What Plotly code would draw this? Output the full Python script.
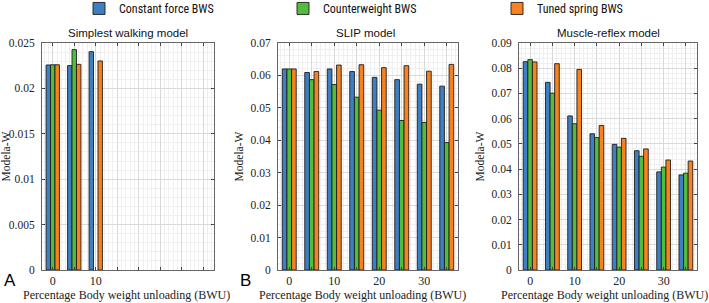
import plotly.graph_objects as go

# ---------------- data ----------------
bwu = [0, 5, 10, 15, 20, 25, 30, 35]
bwu_a = [0, 5, 10]

series_names = ["Constant force BWS", "Counterweight BWS", "Tuned spring BWS"]
series_colors = ["#3d7fc2", "#52bd3c", "#f7821f"]

# Panel A: Simplest walking model
simplest_constant = [0.02258, 0.02251, 0.02405]
simplest_counter = [0.02260, 0.02427, None]
simplest_tuned = [0.02260, 0.02265, 0.02302]

# Panel B: SLIP model
slip_constant = [0.0620, 0.0609, 0.0620, 0.0612, 0.0594, 0.0587, 0.0573, 0.0567]
slip_counter = [0.0620, 0.0587, 0.0572, 0.0533, 0.0493, 0.0461, 0.0455, 0.0393]
slip_tuned = [0.0620, 0.0612, 0.0632, 0.0633, 0.0624, 0.0630, 0.0613, 0.0634]

# Panel C: Muscle-reflex model
muscle_constant = [0.0826, 0.0744, 0.0611, 0.0540, 0.0498, 0.0473, 0.0389, 0.0377]
muscle_counter = [0.0834, 0.0701, 0.0580, 0.0525, 0.0487, 0.0451, 0.0408, 0.0384]
muscle_tuned = [0.0825, 0.0818, 0.0795, 0.0573, 0.0522, 0.0480, 0.0436, 0.0432]

x_tickvals = [0, 5, 10, 15, 20, 25, 30, 35]
x_ticktext_a = ["0", "", "10", "", "", "", "", ""]
x_ticktext_bc = ["0", "", "10", "", "20", "", "30", ""]

panel_titles = ["Simplest walking model", "SLIP model", "Muscle-reflex model"]
panel_letters = ["A", "B"]
y_title = "Modela-W"
x_title = "Percentage Body weight unloading (BWU)"

# ---------------- layout helpers ----------------
W, H = 709, 303
def px_x(p):
    return p / W
def px_y(p):
    return 1 - p / H

x_domains = [(42, 214), (278, 458), (519, 697)]
y_dom = [px_y(270), px_y(43)]
y_ranges = [(0, 0.025), (0, 0.07), (0, 0.09)]
y_dticks = [0.005, 0.01, 0.01]
y_minor = [0.001, 0.002, 0.002]

serif = "Liberation Serif"
sans = "Liberation Sans"

fig = go.Figure()

panels = [
    (bwu_a, [simplest_constant, simplest_counter, simplest_tuned]),
    (bwu, [slip_constant, slip_counter, slip_tuned]),
    (bwu, [muscle_constant, muscle_counter, muscle_tuned]),
]
legend_ids = ["legend", "legend2", "legend3"]

for pi, (xs, vals) in enumerate(panels):
    xa = "x" if pi == 0 else f"x{pi+1}"
    ya = "y" if pi == 0 else f"y{pi+1}"
    for si, v in enumerate(vals):
        fig.add_trace(go.Bar(
            x=xs, y=v, name=series_names[si],
            marker=dict(color=series_colors[si], line=dict(color="#1e1e1e", width=0.9)),
            xaxis=xa, yaxis=ya,
            showlegend=(pi == 0),
            legend=legend_ids[si],
            offsetgroup=str(si),
        ))

layout = dict(
    width=W, height=H,
    margin=dict(l=0, r=0, t=0, b=0, autoexpand=False),
    plot_bgcolor="white", paper_bgcolor="white",
    barmode="group", bargap=0.38, bargroupgap=0.0,
    font=dict(family=serif, size=12, color="#222"),
)

for pi in range(3):
    xk = "xaxis" if pi == 0 else f"xaxis{pi+1}"
    yk = "yaxis" if pi == 0 else f"yaxis{pi+1}"
    xanchor = "y" if pi == 0 else f"y{pi+1}"
    yanchor = "x" if pi == 0 else f"x{pi+1}"
    layout[xk] = dict(
        domain=[px_x(x_domains[pi][0]), px_x(x_domains[pi][1])],
        anchor=xanchor, range=[-2.5, 37.5],
        tickmode="array", tickvals=x_tickvals,
        ticktext=x_ticktext_a if pi == 0 else x_ticktext_bc,
        ticks="inside", ticklen=3, tickcolor="#444",
        showline=True, linecolor="#666", linewidth=1, mirror="ticks",
        showgrid=True, gridcolor="#d9d9d9", gridwidth=1,
        minor=dict(dtick=1, tick0=0, showgrid=True, gridcolor="#efefef", gridwidth=1, ticks=""),
        tickfont=dict(family=serif, size=12, color="#222"),
        ticklabelstandoff=0,
        zeroline=False, fixedrange=True,
    )
    layout[yk] = dict(
        domain=y_dom, anchor=yanchor,
        range=list(y_ranges[pi]), dtick=y_dticks[pi], tick0=0,
        ticks="inside", ticklen=3, tickcolor="#444",
        showline=True, linecolor="#666", linewidth=1, mirror="ticks",
        showgrid=True, gridcolor="#d9d9d9", gridwidth=1,
        minor=dict(dtick=y_minor[pi], showgrid=True, gridcolor="#efefef", gridwidth=1, ticks=""),
        tickfont=dict(family=serif, size=11.5, color="#222"),
        ticklabelstandoff=4,
        title=dict(text=y_title, font=dict(family=serif, size=11.5, color="#222"), standoff=4),
        zeroline=False, fixedrange=True,
    )

leg_font = dict(family="Liberation Sans Narrow, Roboto Condensed, Liberation Sans", size=12, color="#111")
leg_x = [79, 283, 497]
for li, lid in enumerate(legend_ids):
    layout[lid] = dict(
        x=px_x(leg_x[li]), y=1.02, xanchor="left", yanchor="top",
        orientation="h", font=leg_font, bgcolor="rgba(0,0,0,0)",
        itemwidth=30, tracegroupgap=0,
    )

annotations = []
title_cx = [128, 365, 608]
xtitle_cx = [126, 362, 604]
for pi in range(3):
    annotations.append(dict(
        text=panel_titles[pi], x=px_x(title_cx[pi]), y=px_y(33),
        xref="paper", yref="paper", xanchor="center", yanchor="middle",
        showarrow=False, font=dict(family=sans, size=11.5, color="#111"),
    ))
    annotations.append(dict(
        text=x_title, x=px_x(xtitle_cx[pi]), y=px_y(295),
        xref="paper", yref="paper", xanchor="center", yanchor="middle",
        showarrow=False, font=dict(family=serif, size=12, color="#222"),
    ))
letter_cx = [10, 245]
for pi in range(2):
    annotations.append(dict(
        text=panel_letters[pi], x=px_x(letter_cx[pi]), y=px_y(280),
        xref="paper", yref="paper", xanchor="center", yanchor="middle",
        showarrow=False, font=dict(family=sans, size=17, color="#000"),
    ))
layout["annotations"] = annotations

fig.update_layout(**layout)
fig.write_html(
    "out.html",
    config={"displayModeBar": False},
    post_script="document.body.style.margin='0px';document.body.style.overflow='hidden';",
)
